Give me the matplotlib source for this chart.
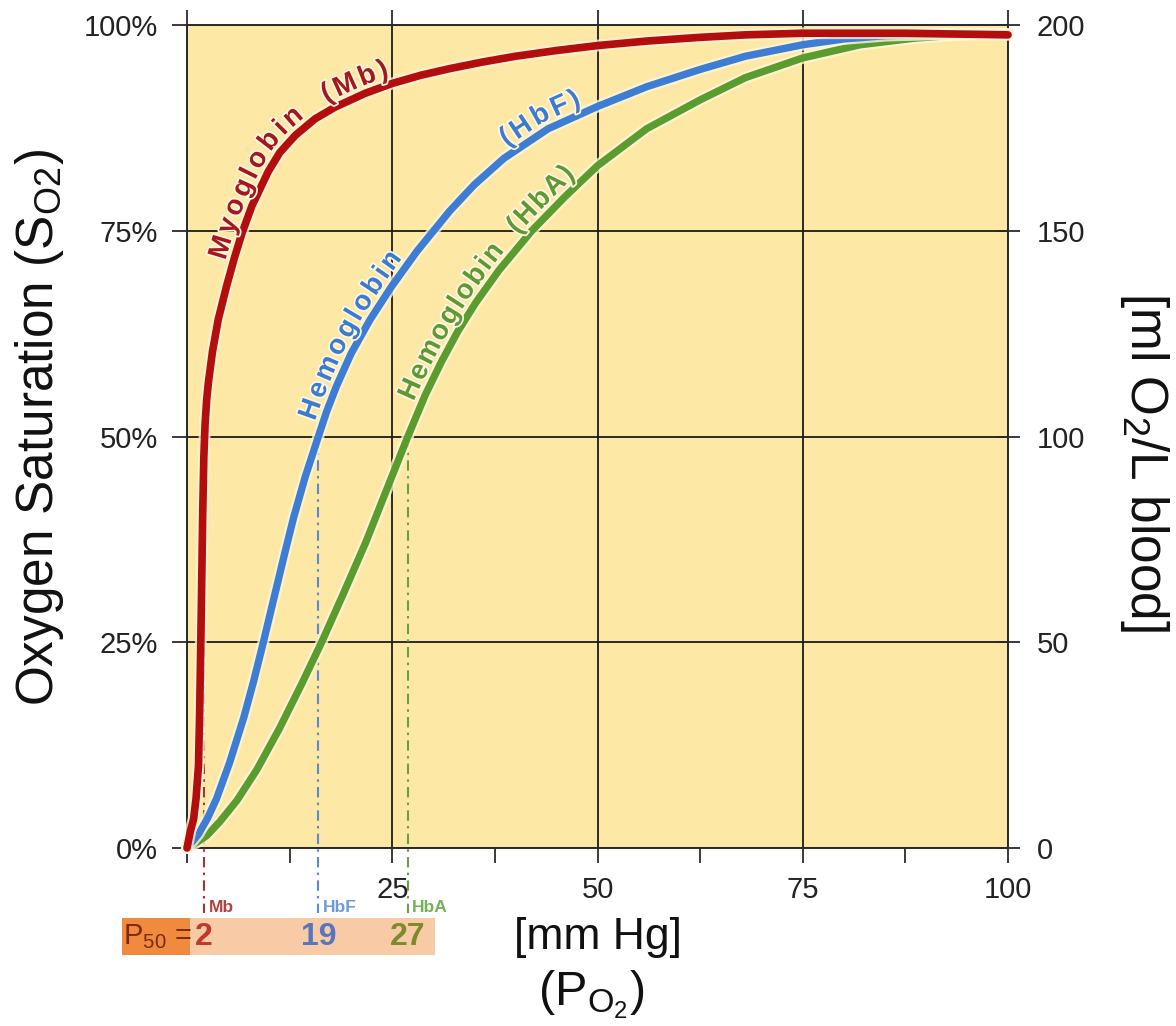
import numpy as np
import matplotlib
matplotlib.use("Agg")
import matplotlib.pyplot as plt
from matplotlib import patheffects as pe
from matplotlib.patches import Rectangle
from matplotlib.transforms import IdentityTransform, blended_transform_factory

plt.rcParams['font.family'] = ['Liberation Sans', 'DejaVu Sans']
plt.rcParams['mathtext.fontset'] = 'custom'
plt.rcParams['mathtext.rm'] = 'Liberation Sans'
plt.rcParams['mathtext.it'] = 'Liberation Sans:italic'
plt.rcParams['mathtext.bf'] = 'Liberation Sans:bold'

# ---------------- data ----------------
mb_po2 = [0, 0.4, 0.8, 1.1, 1.4, 1.55, 1.68, 1.8, 1.92, 2.05, 2.2, 2.4, 2.6, 3.1,
          3.8, 4.8, 5.8, 6.7, 7.9, 9.9, 11.3, 13.2, 15.6, 18.0, 21.7, 25, 28.5,
          32, 36, 40, 45, 50, 56, 62.5, 68, 75, 87.5, 100]
mb_sat = [0, 2, 3.5, 6, 10, 17, 25, 33, 41, 47.5, 51.5, 54.5, 56.5, 60.3,
          64.2, 68.2, 71.8, 74.7, 78.0, 82.2, 84.5, 86.6, 88.6, 90.0, 91.7, 92.9, 93.9,
          94.7, 95.5, 96.2, 96.9, 97.5, 98.05, 98.5, 98.8, 99.0, 99.0, 98.8]

hbf_po2 = [0, 1.4, 2.5, 3.6, 5.2, 6.9, 8.1, 9.3, 10.6, 11.9, 13.0, 14.4, 16.0, 17.0,
           18.2, 20, 22.3, 24.9, 28, 32, 35, 38.6, 44, 50, 56, 62.5, 68, 75, 80,
           85, 92, 100]
hbf_sat = [0, 1.7, 3.6, 6.0, 10.4, 15.8, 20.2, 25, 30.4, 35.8, 40.2, 45.1, 50, 53,
           56.1, 60.1, 64.2, 68.2, 72.5, 77.4, 80.6, 83.8, 87.4, 90.1, 92.5, 94.6, 96.2, 97.6, 98.3,
           98.7, 98.9, 98.9]

hba_po2 = [0, 1.2, 2.4, 4, 6.1, 8.5, 11.3, 14, 16.4, 19, 21.8, 24.5, 26.9, 29, 31,
           33, 35.2, 38, 42, 46, 50, 56, 62.5, 68, 75, 82, 88.6, 94, 100]
hba_sat = [0, 0.7, 1.5, 3.2, 5.8, 9.5, 14.6, 20, 25, 30.8, 37.2, 44.0, 50, 55.0, 59.1,
           62.8, 66.3, 70.2, 75.0, 79.1, 82.9, 87.4, 90.9, 93.6, 96.0, 97.6, 98.4, 98.8, 98.9]

p50_names = ['Mb', 'HbF', 'HbA']
p50_lines = [2.1, 16.0, 26.9]        # where the dash-dot markers are drawn (mm Hg)
p50_values = ['2', '19', '27']       # printed P50 values

x_major = [0, 25, 50, 75, 100]
x_major_labels = ['', '25', '50', '75', '100']
x_minor = [12.5, 37.5, 62.5, 87.5]
y_ticks = [0, 25, 50, 75, 100]
y_labels = ['0%', '25%', '50%', '75%', '100%']
y2_ticks = [0, 50, 100, 150, 200]
y2_labels = ['0', '50', '100', '150', '200']

# ---------------- styling ----------------
W, H = 1176, 1026
BG = '#FDE8A6'
RED, BLUE, GREEN = '#B20E0E', '#3D7DD4', '#5A9C2E'
RED_T, BLUE_T, GREEN_T = '#A5171A', '#3B7BD0', '#5E9A32'
DASH_C = ['#A83232', '#5A8AD0', '#6B9E45']
SMALL_C = ['#B24040', '#6E9BDA', '#74B25A']
NUM_C = ['#C0392B', '#5577C0', '#7D8B2C']

fig = plt.figure(figsize=(W / 100, H / 100), dpi=100)
ax = fig.add_axes([187 / W, 1 - 848 / H, (1008 - 187) / W, (848 - 25) / H])
ax.set_facecolor(BG)
ax.set_xlim(0, 100)
ax.set_ylim(0, 100)

ax.set_xticks(x_major)
ax.set_xticklabels(x_major_labels)
ax.set_xticks(x_minor, minor=True)
ax.set_yticks(y_ticks)
ax.set_yticklabels(y_labels)
ax.grid(True, which='major', color='#1c1c1c', lw=1.3)
for s in ax.spines.values():
    s.set_color('#2a2a2a')
    s.set_linewidth(1.4)

ax.tick_params(axis='x', which='both', direction='out', length=11, width=1.3,
               color='#2a2a2a', labelsize=21, pad=9, labelcolor='#222222')
ax.tick_params(axis='x', which='major', top=True, labeltop=False)
ax.tick_params(axis='x', which='minor', top=False)
ax.tick_params(axis='y', direction='out', length=11, width=1.3, color='#2a2a2a',
               labelsize=21, pad=10, labelcolor='#222222')

ax2 = ax.twinx()
ax2.set_ylim(0, 200)
ax2.set_yticks(y2_ticks)
ax2.set_yticklabels(y2_labels)
ax2.tick_params(axis='y', direction='inout', length=17, width=1.3, color='#2a2a2a',
                labelsize=21, pad=12, labelcolor='#222222')
for s in ax2.spines.values():
    s.set_visible(False)

halo = [pe.Stroke(linewidth=8.5, foreground='#FFF6DC', alpha=0.8), pe.Normal()]
ax.plot(hba_po2, hba_sat, color=GREEN, lw=5.3, solid_capstyle='round',
        solid_joinstyle='round', clip_on=False, zorder=4, path_effects=halo)
ax.plot(hbf_po2, hbf_sat, color=BLUE, lw=5.3, solid_capstyle='round',
        solid_joinstyle='round', clip_on=False, zorder=5, path_effects=halo)
ax.plot(mb_po2, mb_sat, color=RED, lw=5.5, solid_capstyle='round',
        solid_joinstyle='round', clip_on=False, zorder=6, path_effects=halo)

# P50 dash-dot markers
y_bottom = (848 - 913) / 8.23
for x, c in zip(p50_lines, DASH_C):
    ax.plot([x, x], [50, y_bottom], color=c, lw=1.5, dashes=(5, 2.5, 1.2, 2.5),
            clip_on=False, zorder=3)

bt = blended_transform_factory(ax.transData, fig.transFigure)
fy = lambda px: 1 - px / H
for x, name, c in zip(p50_lines, p50_names, SMALL_C):
    ax.annotate(name, xy=(x, fy(907)), xycoords=bt, xytext=(3, 0),
                textcoords='offset points', ha='left', va='center',
                fontsize=12.5, fontweight='bold', color=c, annotation_clip=False)

# P50 box
fig.add_artist(Rectangle((190 / W, fy(955)), (435 - 190) / W, 37 / H,
                         transform=fig.transFigure, facecolor='#F8CAA5',
                         edgecolor='none', zorder=0))
fig.add_artist(Rectangle((122 / W, fy(955)), (190 - 122) / W, 37 / H,
                         transform=fig.transFigure, facecolor='#F08A3C',
                         edgecolor='none', zorder=0))
fig.text(157 / W, fy(937), r'P$_{\mathregular{50}}$ =', ha='center', va='center',
         fontsize=21, color='#7B2A0E')
for x, v, c in zip(p50_lines, p50_values, NUM_C):
    ax.text(x, fy(937), v, transform=bt, ha='center', va='center', fontsize=23,
            fontweight='bold', color=c, clip_on=False)

# axis titles
fig.text(40 / W, fy(428), r'Oxygen Saturation (S$_{\mathregular{O2}}$)', rotation=90,
         ha='center', va='center', fontsize=37, color='#111111')
fig.text(1144 / W, fy(462), r'[ml O$_{\mathregular{2}}$/L blood]', rotation=-90,
         ha='center', va='center', fontsize=37, color='#111111')
fig.text(598 / W, fy(937), '[mm Hg]', ha='center', va='center', fontsize=32,
         color='#111111')
fig.text(591 / W, fy(995), r'(P$_{\mathregular{O_2}}$)', ha='center', va='center',
         fontsize=35, color='#111111')


# ---------------- text following the curves ----------------
def text_on_curve(xs, ys, text, p_start, p_end, offset, color, size):
    r = fig.canvas.get_renderer()
    xs = np.asarray(xs, float)
    ys = np.asarray(ys, float)
    pts = ax.transData.transform(np.column_stack([xs, ys]))
    d = np.hypot(np.diff(pts[:, 0]), np.diff(pts[:, 1]))
    L = np.concatenate([[0], np.cumsum(d)])
    l0 = np.interp(p_start, xs, L)
    l1 = np.interp(p_end, xs, L)
    widths = []
    for ch in text:
        if ch == ' ':
            widths.append(0.28 * size * 100 / 72)
            continue
        t = fig.text(0, 0, ch, fontsize=size, fontweight='bold')
        widths.append(t.get_window_extent(renderer=r).width)
        t.remove()
    n = len(text)
    track = (l1 - l0 - sum(widths)) / max(n - 1, 1)
    pos = l0
    eff = [pe.withStroke(linewidth=2.5, foreground='#FFF8E6')]
    for ch, w in zip(text, widths):
        c = pos + w / 2
        px = np.interp(c, L, pts[:, 0])
        py = np.interp(c, L, pts[:, 1])
        ax_ = np.interp(c - 18, L, pts[:, 0]); ay_ = np.interp(c - 18, L, pts[:, 1])
        bx_ = np.interp(c + 18, L, pts[:, 0]); by_ = np.interp(c + 18, L, pts[:, 1])
        ang = np.arctan2(by_ - ay_, bx_ - ax_)
        nx, ny = -np.sin(ang), np.cos(ang)
        if ch != ' ':
            ax.text(px + nx * offset, py + ny * offset, ch, transform=IdentityTransform(),
                    rotation=np.degrees(ang), rotation_mode='anchor', ha='center',
                    va='baseline', fontsize=size, fontweight='bold', color=color,
                    zorder=7, path_effects=eff)
        pos += w + track


fig.canvas.draw()
text_on_curve(mb_po2, mb_sat, 'Myoglobin  (Mb)', 5.6, 25.0, 8, RED_T, 20)
text_on_curve(hbf_po2, hbf_sat, 'Hemoglobin', 16.5, 27.0, 8, BLUE_T, 20)
text_on_curve(hbf_po2, hbf_sat, '(HbF)', 39.5, 48.5, 8, BLUE_T, 20)
text_on_curve(hba_po2, hba_sat, 'Hemoglobin  (HbA)', 28.5, 48.0, 8, GREEN_T, 20)

fig.savefig('out.png', dpi=100)
